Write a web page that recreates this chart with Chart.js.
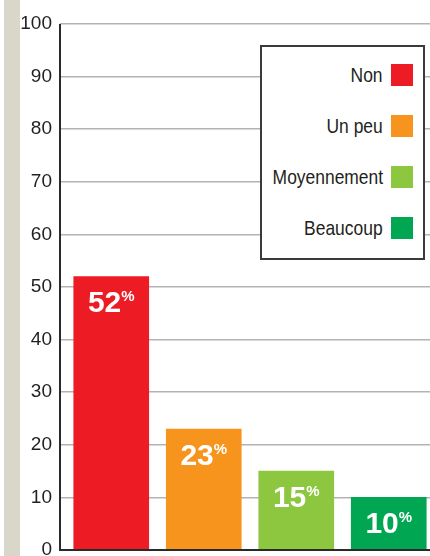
<!DOCTYPE html>
<html>
<head>
<meta charset="utf-8">
<script src="https://cdn.jsdelivr.net/npm/chart.js@4"></script>
<style>
  html, body { margin: 0; padding: 0; background: #fff; }
  #wrap { position: relative; width: 430px; height: 556px; overflow: hidden; background: #fff; }
  #strip { position: absolute; left: 4px; top: 0; width: 16px; height: 556px; background: #d8d7c9; }
  #chart { position: absolute; left: 0; top: 0; }
  #legend {
    position: absolute; left: 260px; top: 45px; width: 161px; height: 211px;
    border: 2px solid #3a3a3a; background: #fff;
  }
  .lg-item {
    position: absolute; right: 10px; height: 22px;
    display: flex; align-items: center; gap: 8px;
    font-family: 'Liberation Sans', Arial, sans-serif;
    font-size: 21px; color: #231f20; white-space: nowrap;
  }
  .lg-item span:first-child { display: inline-block; transform: scaleX(0.83); transform-origin: right center; }
  .lg-box { width: 22px; height: 22px; }
</style>
</head>
<body>
<div id="wrap">
  <div id="strip"></div>
  <canvas id="chart" width="440" height="556"></canvas>
  <div id="legend"></div>
</div>
<script>
const CATEGORIES = ['Non', 'Un peu', 'Moyennement', 'Beaucoup'];
const VALUES = [52, 23, 15, 10];
const COLORS = ['#ed1c24', '#f7941d', '#8dc63f', '#00a651'];
const Y_TICKS = [0, 10, 20, 30, 40, 50, 60, 70, 80, 90, 100];

// légende
const legend = document.getElementById('legend');
CATEGORIES.forEach((c, i) => {
  const el = document.createElement('div');
  el.className = 'lg-item';
  el.style.top = (17 + i * 51) + 'px';
  el.innerHTML = `<span>${c}</span><span class="lg-box" style="background:${COLORS[i]}"></span>`;
  legend.appendChild(el);
});

// axes noirs (à gauche et en bas)
const axisLines = {
  id: 'axisLines',
  afterDatasetsDraw(chart) {
    const { ctx, scales: { y } } = chart;
    const y0 = y.getPixelForValue(0), y100 = y.getPixelForValue(100);
    ctx.save();
    ctx.strokeStyle = '#2a2a2a';
    ctx.lineWidth = 2;
    ctx.beginPath();
    ctx.moveTo(60, y100);
    ctx.lineTo(60, y0 + 1);
    ctx.moveTo(59, y0);
    ctx.lineTo(440, y0);
    ctx.stroke();
    ctx.restore();
  }
};

// pourcentages dans les barres
const barLabels = {
  id: 'barLabels',
  afterDatasetsDraw(chart) {
    const { ctx } = chart;
    const meta = chart.getDatasetMeta(0);
    const big = 'bold 30px "Liberation Sans", Arial, sans-serif';
    const small = 'bold 15px "Liberation Sans", Arial, sans-serif';
    ctx.save();
    ctx.fillStyle = '#fff';
    ctx.textBaseline = 'alphabetic';
    meta.data.forEach((bar, i) => {
      const num = String(VALUES[i]);
      ctx.font = big;
      const wNum = ctx.measureText(num).width;
      ctx.font = small;
      const wPct = ctx.measureText('%').width;
      const x0 = bar.x - (wNum + wPct) / 2;
      ctx.font = big;
      ctx.fillText(num, x0, bar.y + 36);
      ctx.font = small;
      ctx.fillText('%', x0 + wNum, bar.y + 25);
    });
    ctx.restore();
  }
};

new Chart(document.getElementById('chart'), {
  type: 'bar',
  data: {
    labels: CATEGORIES,
    datasets: [{ data: VALUES, backgroundColor: COLORS, borderWidth: 0, barThickness: 75 }],
  },
  options: {
    responsive: false, animation: false, devicePixelRatio: 1,
    layout: { padding: { top: 24, bottom: 6, left: 0, right: 5 } },
    plugins: { legend: { display: false }, tooltip: { enabled: false } },
    scales: {
      x: { display: false },
      y: {
        min: 0, max: 100,
        afterBuildTicks: (s) => { s.ticks = Y_TICKS.map((v) => ({ value: v })); },
        afterFit: (s) => { s.width = 65; s.paddingTop = 0; s.paddingBottom = 0; },
        border: { display: false },
        grid: { color: '#b3b3b3', lineWidth: 1.5, drawTicks: true, tickLength: 5, tickColor: '#b3b3b3' },
        ticks: {
          padding: 8, color: '#231f20',
          font: { family: '"Liberation Sans", Arial, sans-serif', size: 19 },
        },
      },
    },
  },
  plugins: [axisLines, barLabels],
});
</script>
</body>
</html>
